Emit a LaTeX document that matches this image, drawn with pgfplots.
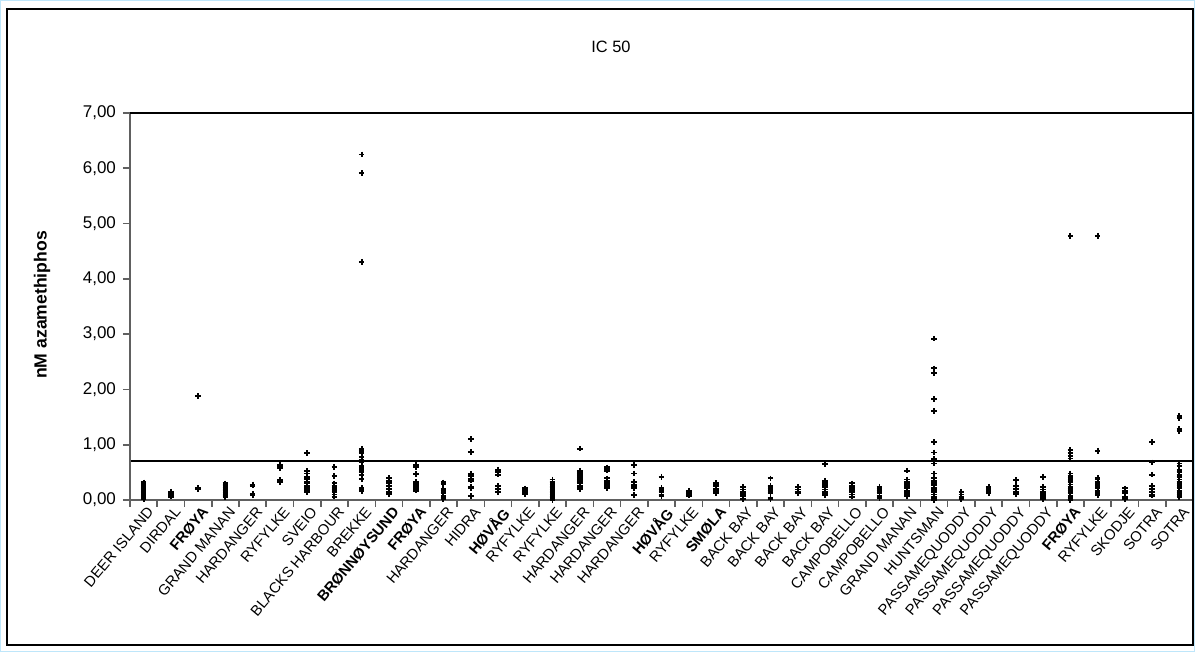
\documentclass[border=0pt]{standalone}
\usepackage{pgfplots}
\pgfplotsset{compat=1.18}
\usepackage{fontspec}
\setmainfont{Liberation Sans}

\definecolor{axisgray}{RGB}{96,96,96}
\definecolor{edgeblue}{RGB}{190,230,250}

\begin{document}
\begin{tikzpicture}
\begin{axis}[
    at={(0pt,0pt)}, anchor=south west,
    scale only axis, width=531.5pt, height=193.5pt,
    xmin=0.5, xmax=39.5, ymin=0, ymax=7,
    clip=false,
    axis line style={draw=none},
    tick align=outside,
    xtick pos=bottom, ytick pos=left,
    xtick={1,...,39},
    major x tick style={draw=none},
    minor xtick={0.5,1.5,...,39.5},
    minor x tick style={axisgray, line width=0.8pt},
    minor tick length=3.5pt,
    ytick={0,...,7},
    major tick length=3.5pt,
    y tick style={axisgray, line width=0.8pt},
    /pgf/number format/assume math mode=true,
    yticklabel style={font=\fontsize{8.5}{10}\selectfont,
        /pgf/number format/fixed, /pgf/number format/fixed zerofill,
        /pgf/number format/precision=2, /pgf/number format/use comma},
    xticklabel style={font=\fontsize{7.4}{8}\selectfont, rotate=50,
        anchor=north east, inner sep=0.5pt, xshift=2pt},
    xticklabels={DEER ISLAND, DIRDAL, \textbf{FRØYA}, GRAND MANAN, HARDANGER,
        RYFYLKE, SVEIO, BLACKS HARBOUR, BREKKE, \textbf{BRØNNØYSUND},
        \textbf{FRØYA}, HARDANGER, HIDRA, \textbf{HØVÅG}, RYFYLKE, RYFYLKE,
        HARDANGER, HARDANGER, HARDANGER, \textbf{HØVÅG}, RYFYLKE,
        \textbf{SMØLA}, BACK BAY, BACK BAY, BACK BAY, BACK BAY, CAMPOBELLO,
        CAMPOBELLO, GRAND MANAN, HUNTSMAN, PASSAMEQUODDY, PASSAMEQUODDY,
        PASSAMEQUODDY, PASSAMEQUODDY, \textbf{FRØYA}, RYFYLKE, SKODJE,
        SOTRA, SOTRA},
    ]
% threshold
\addplot[black, line width=1.2pt] coordinates {(0.5,0.71) (39.5,0.71)};
% IC50 per site
\addplot[only marks, mark=+, mark size=1.4pt, line width=0.95pt, black] coordinates {
(1,0.02)(1,0.05)(1,0.08)(1,0.1)(1,0.12)(1,0.15)(1,0.18)(1,0.2)(1,0.22)(1,0.25)(1,0.28)(1,0.3)(1,0.32)
(2,0.06)(2,0.09)(2,0.12)(2,0.15)
(3,0.2)(3,0.22)(3,1.88)
(4,0.05)(4,0.08)(4,0.1)(4,0.13)(4,0.16)(4,0.19)(4,0.22)(4,0.25)(4,0.28)(4,0.3)
(5,0.09)(5,0.11)(5,0.26)(5,0.28)
(6,0.32)(6,0.36)(6,0.57)(6,0.6)(6,0.63)
(7,0.15)(7,0.18)(7,0.22)(7,0.26)(7,0.3)(7,0.33)(7,0.38)(7,0.42)(7,0.48)(7,0.52)(7,0.85)
(8,0.06)(8,0.1)(8,0.14)(8,0.18)(8,0.22)(8,0.26)(8,0.3)(8,0.43)(8,0.6)
(9,0.16)(9,0.18)(9,0.22)(9,0.38)(9,0.45)(9,0.5)(9,0.55)(9,0.58)(9,0.62)(9,0.68)(9,0.72)(9,0.78)(9,0.85)(9,0.88)(9,0.9)(9,0.93)(9,4.31)(9,5.91)(9,6.25)
(10,0.11)(10,0.15)(10,0.2)(10,0.25)(10,0.3)(10,0.35)(10,0.4)
(11,0.17)(11,0.2)(11,0.23)(11,0.27)(11,0.3)(11,0.33)(11,0.47)(11,0.6)(11,0.63)
(12,0.01)(12,0.04)(12,0.08)(12,0.12)(12,0.16)(12,0.2)(12,0.29)(12,0.32)
(13,0.07)(13,0.21)(13,0.23)(13,0.35)(13,0.38)(13,0.43)(13,0.47)(13,0.87)(13,1.1)
(14,0.15)(14,0.2)(14,0.25)(14,0.46)(14,0.5)(14,0.55)
(15,0.1)(15,0.12)(15,0.15)(15,0.18)(15,0.21)
(16,0)(16,0.03)(16,0.06)(16,0.09)(16,0.12)(16,0.15)(16,0.18)(16,0.21)(16,0.24)(16,0.27)(16,0.3)(16,0.33)(16,0.37)
(17,0.19)(17,0.22)(17,0.26)(17,0.3)(17,0.33)(17,0.36)(17,0.4)(17,0.44)(17,0.47)(17,0.5)(17,0.53)(17,0.93)
(18,0.21)(18,0.24)(18,0.27)(18,0.31)(18,0.35)(18,0.39)(18,0.53)(18,0.56)(18,0.59)
(19,0.09)(19,0.21)(19,0.25)(19,0.28)(19,0.33)(19,0.48)(19,0.63)
(20,0.07)(20,0.1)(20,0.14)(20,0.18)(20,0.22)(20,0.42)
(21,0.08)(21,0.11)(21,0.14)(21,0.17)
(22,0.13)(22,0.16)(22,0.2)(22,0.25)(22,0.28)(22,0.31)
(23,0.01)(23,0.07)(23,0.11)(23,0.15)(23,0.19)(23,0.23)
(24,0.02)(24,0.04)(24,0.12)(24,0.16)(24,0.2)(24,0.23)(24,0.26)(24,0.39)
(25,0.12)(25,0.15)(25,0.19)(25,0.23)
(26,0.09)(26,0.12)(26,0.15)(26,0.19)(26,0.23)(26,0.27)(26,0.31)(26,0.35)(26,0.65)
(27,0.06)(27,0.1)(27,0.14)(27,0.18)(27,0.22)(27,0.26)(27,0.3)
(28,0.03)(28,0.08)(28,0.12)(28,0.16)(28,0.2)(28,0.24)
(29,0.07)(29,0.1)(29,0.13)(29,0.17)(29,0.21)(29,0.25)(29,0.29)(29,0.33)(29,0.37)(29,0.53)
(30,0)(30,0.02)(30,0.06)(30,0.1)(30,0.14)(30,0.18)(30,0.22)(30,0.27)(30,0.31)(30,0.35)(30,0.39)(30,0.48)(30,0.66)(30,0.7)(30,0.74)(30,0.86)(30,1.05)(30,1.61)(30,1.83)(30,2.3)(30,2.38)(30,2.92)
(31,0.02)(31,0.06)(31,0.1)(31,0.14)
(32,0.12)(32,0.15)(32,0.18)(32,0.21)(32,0.24)
(33,0.11)(33,0.15)(33,0.2)(33,0.25)(33,0.36)
(34,0.01)(34,0.03)(34,0.07)(34,0.11)(34,0.15)(34,0.19)(34,0.23)(34,0.42)
(35,0)(35,0.04)(35,0.08)(35,0.12)(35,0.16)(35,0.2)(35,0.24)(35,0.28)(35,0.32)(35,0.36)(35,0.4)(35,0.44)(35,0.48)(35,0.75)(35,0.8)(35,0.85)(35,0.9)(35,4.78)
(36,0.09)(36,0.13)(36,0.17)(36,0.21)(36,0.25)(36,0.29)(36,0.33)(36,0.37)(36,0.4)(36,0.89)(36,4.78)
(37,0.02)(37,0.06)(37,0.13)(37,0.17)(37,0.21)
(38,0.08)(38,0.1)(38,0.15)(38,0.2)(38,0.25)(38,0.46)(38,0.68)(38,1.05)
(39,0.05)(39,0.09)(39,0.13)(39,0.17)(39,0.21)(39,0.25)(39,0.29)(39,0.33)(39,0.37)(39,0.41)(39,0.45)(39,0.5)(39,0.55)(39,0.62)(39,0.66)(39,1.25)(39,1.29)(39,1.48)(39,1.52)
};
\draw[axisgray, line width=1pt] (rel axis cs:0,0) -- (rel axis cs:0,1);
\draw[axisgray, line width=1pt] (rel axis cs:0,0) -- (rel axis cs:1,0);
\draw[black, line width=0.8pt] (rel axis cs:0,1) -- (rel axis cs:1,1);
\end{axis}
% chart frame and title
\draw[black, line width=0.8pt] (-61.5pt,-72.5pt) rectangle (531.5pt,245.5pt);
\draw[edgeblue, line width=0.6pt] (-64.7pt,-75.7pt) rectangle (532.2pt,249.7pt);
\node[font=\fontsize{8.2}{10}\selectfont] at (240.5pt,226.5pt) {IC 50};
\node[font=\bfseries\fontsize{8.8}{10}\selectfont, rotate=90] at (-44pt,97.5pt) {nM azamethiphos};
\pgfresetboundingbox
\useasboundingbox (-65pt,-76pt) rectangle (532.5pt,250pt);
\end{tikzpicture}
\end{document}
